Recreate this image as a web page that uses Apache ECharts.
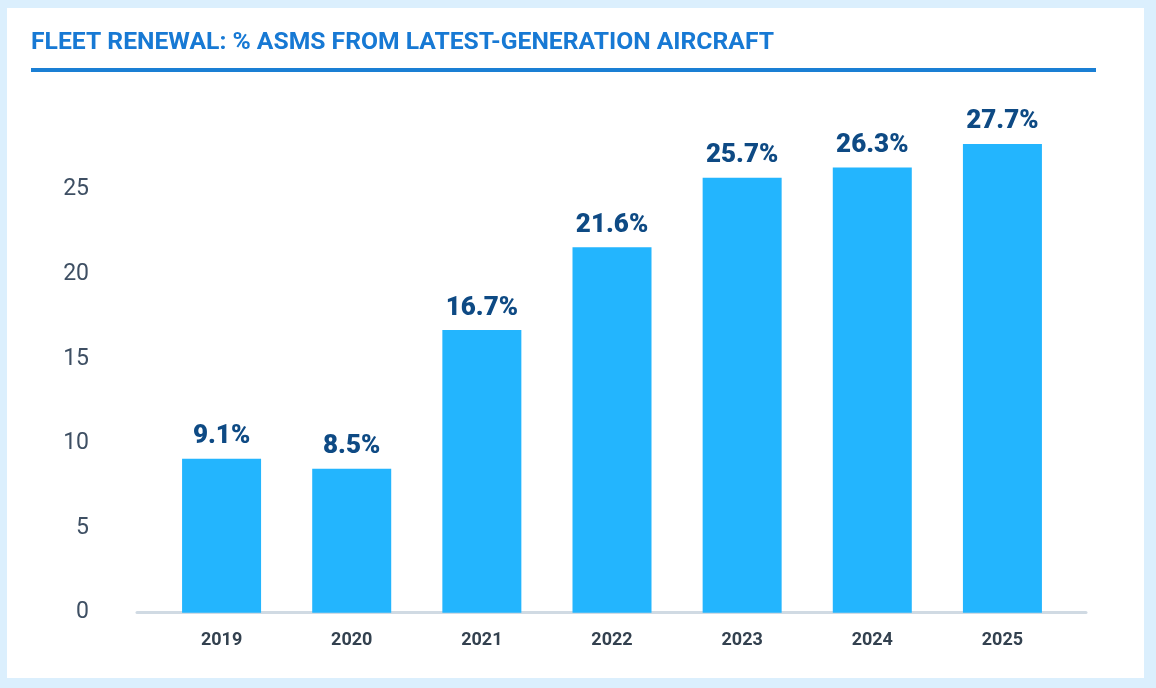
<!DOCTYPE html>
<html>
<head>
<meta charset="utf-8">
<script src="https://cdn.jsdelivr.net/npm/echarts@6/dist/echarts.min.js"></script>
<style>
  html, body { margin: 0; padding: 0; width: 1156px; height: 688px; background: #dbeffd; overflow: hidden; }
  #panel { position: absolute; left: 7px; top: 8px; width: 1137px; height: 670px; background: #ffffff; }
  #rule { position: absolute; left: 31px; top: 68px; width: 1065px; height: 3.5px; background: #1a7fd4; }
  #chart { position: absolute; left: 0; top: 0; width: 1156px; height: 688px; }
</style>
</head>
<body>
<div id="panel"></div>
<div id="rule"></div>
<div id="chart"></div>
<script>
const titleText = 'FLEET RENEWAL: % ASMS FROM LATEST-GENERATION AIRCRAFT';
const categories = ['2019', '2020', '2021', '2022', '2023', '2024', '2025'];
const values = [9.1, 8.5, 16.7, 21.6, 25.7, 26.3, 27.7];
const yTicks = [0, 5, 10, 15, 20, 25];

const chart = echarts.init(document.getElementById('chart'));
chart.setOption({
  backgroundColor: 'transparent',
  animation: false,
  title: {
    text: titleText,
    left: 31,
    top: 30,
    padding: 0,
    textStyle: { fontFamily: 'Roboto', fontWeight: 'bold', fontSize: 24.7, color: '#1779d4' }
  },
  grid: [
    { left: 156.5, right: 88.5, top: 105, bottom: 75.3, containLabel: false },
    { left: 137, right: 70, top: 105, bottom: 75.3, containLabel: false }
  ],
  xAxis: [
    {
      type: 'category', gridIndex: 0, data: categories,
      axisLine: { show: false }, axisTick: { show: false },
      axisLabel: { margin: 19, fontFamily: 'Roboto', fontWeight: 'bold', fontSize: 18, color: '#33414f' }
    },
    {
      type: 'category', gridIndex: 1, data: categories,
      axisLine: { show: true, lineStyle: { color: '#d0dae3', width: 3 } },
      axisTick: { show: false }, axisLabel: { show: false }
    }
  ],
  yAxis: [
    {
      type: 'value', gridIndex: 0, min: 0, max: 30, interval: 5,
      splitLine: { show: false }, axisLine: { show: false }, axisTick: { show: false },
      axisLabel: {
        margin: 67.5, fontFamily: 'Roboto', fontSize: 23, color: '#3e4f63',
        formatter: function (v) { return yTicks.indexOf(v) >= 0 ? String(v) : ''; }
      }
    },
    { type: 'value', gridIndex: 1, show: false, min: 0, max: 30 }
  ],
  series: [{
    type: 'bar',
    xAxisIndex: 0, yAxisIndex: 0,
    data: values,
    barWidth: 79,
    z: 3,
    itemStyle: { color: '#23b5fe' },
    label: {
      show: true, position: 'top', distance: 9,
      fontFamily: 'Roboto', fontWeight: 900, fontSize: 26, color: '#0e4a84',
      formatter: function (p) { return p.value.toFixed(1) + '%'; }
    }
  }]
});
</script>
</body>
</html>
